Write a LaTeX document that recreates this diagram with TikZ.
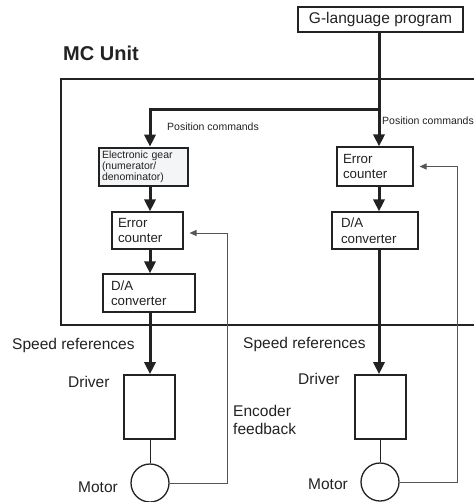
\documentclass[tikz,border=0pt]{standalone}
\usepackage{fontspec}
\setmainfont{Liberation Sans}
\usetikzlibrary{arrows.meta}
\definecolor{ink}{HTML}{222222}
\definecolor{fbgray}{HTML}{555555}
\definecolor{gearfill}{HTML}{F4F5F7}
\begin{document}
\begin{tikzpicture}[x=1pt,y=-1pt,
  lbl/.style={inner sep=0pt,font=\fontsize{15.5}{18}\selectfont,text=ink},
  small/.style={inner sep=0pt,font=\fontsize{10.5}{11}\selectfont,text=ink},
  blk/.style={draw=ink,line width=1.1pt,rectangle,inner sep=0pt,align=left,
    font=\fontsize{13.3}{15.5}\selectfont,text=ink},
  thick arrow/.style={draw=ink,line width=3pt,-{Triangle[length=12pt,width=11pt]}},
  thick line/.style={draw=ink,line width=3pt},
  fb/.style={draw=fbgray,line width=1pt,-{Triangle[length=7pt,width=6pt]}},
  thin/.style={draw=ink,line width=0.9pt}]
\useasboundingbox (0,0) rectangle (473,502);

% MC unit frame
\draw[ink,line width=1.3pt] (476,79) -- (61,79) -- (61,325) -- (476,325);
\node[inner sep=0pt,anchor=base west,font=\fontsize{20}{24}\selectfont\bfseries,text=ink] (mc) at (63,61) {MC Unit};

% boxes
\node[blk,minimum width=165pt,minimum height=25pt,align=center,font=\fontsize{15.5}{18}\selectfont] (G) at (380.5,19.5) {G-language program};
\node[blk,line width=2.6pt,fill=gearfill,minimum width=89pt,minimum height=38pt,text width=83pt,
  font=\fontsize{10.5}{11}\selectfont] (gear) at (143.5,167) {Electronic gear\\(numerator/\\denominator)};
\node[blk,minimum width=71pt,minimum height=37pt,text width=59pt] (ecL) at (147.5,230.5) {Error\\counter};
\node[blk,minimum width=92pt,minimum height=38pt,text width=76pt] (daL) at (149,293) {D/A\\converter};
\node[blk,minimum width=76pt,minimum height=39pt,text width=64pt] (ecR) at (375,166.5) {Error\\counter};
\node[blk,minimum width=86pt,minimum height=37pt,text width=68pt] (daR) at (375,230.5) {D/A\\converter};
\node[blk,line width=1.6pt,minimum width=51pt,minimum height=64pt] (drvL) at (149.5,407) {};
\node[blk,line width=1.6pt,minimum width=51pt,minimum height=64pt] (drvR) at (380.5,407) {};
\node[draw=ink,line width=1.3pt,circle,minimum size=38pt,inner sep=0pt] (motL) at (150,483) {};
\node[draw=ink,line width=1.3pt,circle,minimum size=38pt,inner sep=0pt] (motR) at (380,482) {};

% junctions
\coordinate (jR) at (379,110);
\coordinate (jL) at (150,110);
\coordinate (fbL) at (227,0);
\coordinate (fbR) at (457,0);

% position command paths
\draw[thick line] (jR |- G.south) -- (jR);
\draw[thick arrow] (jR) -- (jR |- ecR.north);
\draw[thick arrow] (jR) -- (jL) -- (jL |- gear.north);

% left chain
\draw[thick arrow] (gear.south -| jL) -- (ecL.north -| jL);
\draw[thick arrow] (ecL.south -| jL) -- (daL.north -| jL);
\draw[thick arrow] (daL.south -| jL) -- (drvL.north -| jL);
\draw[thin] (drvL.south -| motL) -- (motL.north);

% right chain
\draw[thick arrow] (ecR.south -| jR) -- (daR.north -| jR);
\draw[thick arrow] (daR.south -| jR) -- (drvR.north -| jR);
\draw[thin] (drvR.south -| motR) -- (motR.north);

% feedback
\draw[fb] (motL.east) -| ([yshift=-2.5pt]fbL |- ecL.east) -- ([xshift=6pt,yshift=-2.5pt]ecL.east);
\draw[fb] (motR.east) -| (fbR |- ecR.east) -- ([xshift=6pt]ecR.east);

% labels
\node[small,anchor=west] (pcL) at (167,127) {Position commands};
\node[small,anchor=west] (pcR) at (382,121) {Position commands};
\node[lbl,anchor=west] (srL) at (12,345) {Speed references};
\node[lbl,anchor=west] (srR) at (243,344) {Speed references};
\node[lbl,anchor=west] (dL) at (68,382) {Driver};
\node[lbl,anchor=west] (dR) at (298,379) {Driver};
\node[lbl,anchor=west,align=left] (enc) at (233,420) {Encoder\\feedback};
\node[lbl,anchor=west] (mL) at (78,487) {Motor};
\node[lbl,anchor=west] (mR) at (308,484) {Motor};
\end{tikzpicture}
\end{document}
